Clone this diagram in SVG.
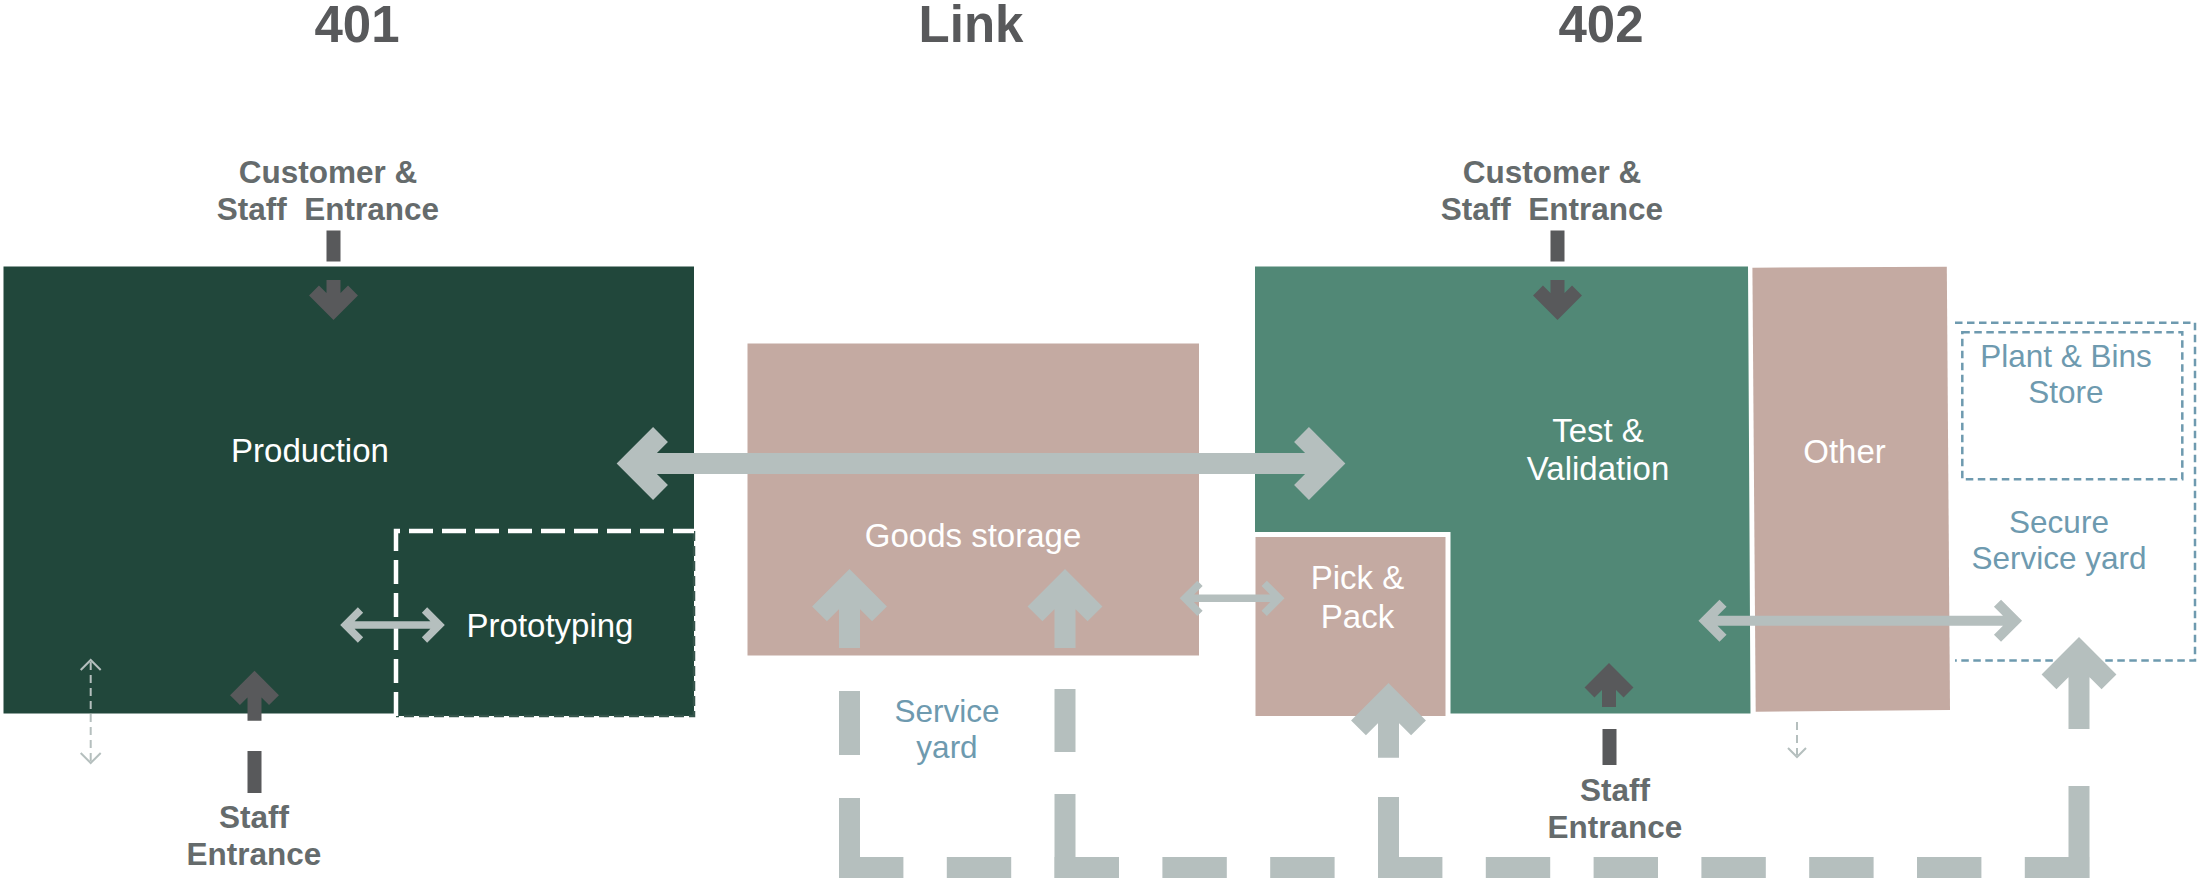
<svg xmlns="http://www.w3.org/2000/svg" width="2199" height="885" viewBox="0 0 2199 885">
<style>
.title{font-family:"Liberation Sans",Arial,sans-serif;font-weight:bold;font-size:51px;fill:#58595b;text-anchor:middle}
.ent{font-family:"Liberation Sans",Arial,sans-serif;font-weight:bold;font-size:31.5px;fill:#656b6c;text-anchor:middle}
.wl{font-family:"Liberation Sans",Arial,sans-serif;font-size:33px;fill:#ffffff;text-anchor:middle}
.bl{font-family:"Liberation Sans",Arial,sans-serif;font-size:31.5px;fill:#6e9aaf;text-anchor:middle}
.dg{fill:#21473b}
.mg{fill:#518876}
.pk{fill:#c4aaa2}
.la{fill:none;stroke:#b5bfbe;stroke-linejoin:miter;stroke-linecap:butt;stroke-miterlimit:10}
.da{fill:none;stroke:#58595b;stroke-width:14;stroke-linejoin:miter;stroke-linecap:butt;stroke-miterlimit:10}
.yard{fill:none;stroke:#b5bfbe;stroke-width:21;stroke-linecap:butt}
.thin{fill:none;stroke:#b5bfbe;stroke-width:2;stroke-dasharray:8 5}
.thinh{fill:none;stroke:#b5bfbe;stroke-width:2;stroke-linejoin:miter}
.bdash{fill:none;stroke:#6e9aaf;stroke-width:2.5;stroke-dasharray:7.5 4.5}
</style>

<g id="titles">
<text class="title" x="357" y="42">401</text>
<text class="title" x="971" y="42">Link</text>
<text class="title" x="1601" y="42">402</text>
</g>

<g id="production">
<rect class="dg" x="3.5" y="266.5" width="690.5" height="447"/>
<text class="wl" x="310" y="462">Production</text>
</g>

<g id="prototyping">
<rect class="dg" x="394" y="529" width="300" height="187"/>
<path d="M694,531 V716 H396" fill="none" stroke="#35554b" stroke-width="2.5" stroke-dasharray="10 5"/>
<path d="M396,716 V531 H694" fill="none" stroke="#ffffff" stroke-width="4.5" stroke-dasharray="24 9"/>
<text class="wl" x="550" y="637">Prototyping</text>
</g>

<g id="goods-storage">
<rect class="pk" x="747.5" y="343.5" width="451.5" height="312"/>
<text class="wl" x="973" y="547">Goods storage</text>
</g>

<g id="test-validation">
<polygon class="mg" points="1255,266.5 1748,266.5 1750.5,713.5 1450.5,713.5 1450.5,532 1255,532"/>
<text class="wl" x="1598" y="442">Test &amp;</text>
<text class="wl" x="1598" y="480">Validation</text>
</g>

<g id="pick-pack">
<rect class="pk" x="1255.5" y="537" width="190" height="179"/>
<text class="wl" x="1357.5" y="589">Pick &amp;</text>
<text class="wl" x="1357.5" y="628">Pack</text>
</g>

<g id="other">
<polygon class="pk" points="1752.4,267.7 1946.8,266.7 1950,710 1755.7,711.7"/>
<text class="wl" x="1844.5" y="463">Other</text>
</g>

<g id="secure-yard">
<path class="bdash" d="M1955,322.7 H2195 V660.5 H1955"/>
<text class="bl" x="2059" y="533">Secure</text>
<text class="bl" x="2059" y="569">Service yard</text>
</g>

<g id="plant-bins">
<rect class="bdash" x="1962.3" y="332.3" width="220" height="147"/>
<text class="bl" x="2066" y="366.5">Plant &amp; Bins</text>
<text class="bl" x="2066" y="403">Store</text>
</g>

<g id="service-yard">
<text class="bl" x="947" y="722">Service</text>
<text class="bl" x="947" y="758">yard</text>
</g>

<g id="entrances">
<text class="ent" x="328" y="183">Customer &amp;</text>
<text class="ent" x="328" y="220" xml:space="preserve">Staff  Entrance</text>
<text class="ent" x="1552" y="183">Customer &amp;</text>
<text class="ent" x="1552" y="220" xml:space="preserve">Staff  Entrance</text>
<text class="ent" x="254" y="828">Staff</text>
<text class="ent" x="254" y="865">Entrance</text>
<text class="ent" x="1615" y="801">Staff</text>
<text class="ent" x="1615" y="838">Entrance</text>
</g>

<g id="connectors">
<!-- service yard dashed route -->
<line class="yard" x1="839" y1="867.5" x2="2089.2" y2="867.5" stroke-dasharray="64.4 43.4"/>
<line class="yard" x1="849.5" y1="691" x2="849.5" y2="755"/>
<line class="yard" x1="849.5" y1="798" x2="849.5" y2="878"/>
<line class="yard" x1="1065" y1="689" x2="1065" y2="752"/>
<line class="yard" x1="1065" y1="794" x2="1065" y2="878"/>
<line class="yard" x1="1388.5" y1="797" x2="1388.5" y2="878"/>
<line class="yard" x1="2079" y1="786" x2="2079" y2="878"/>

<!-- big double arrow Production <-> Test -->
<path class="la" stroke-width="21" d="M631.5,463.5 H1330.5 M660.5,434.5 L631.5,463.5 L660.5,492.5 M1301.5,434.5 L1330.5,463.5 L1301.5,492.5"/>
<!-- prototyping double arrow -->
<path class="la" stroke-width="7.5" d="M345.5,625 H439.5 M360.5,610 L345.5,625 L360.5,640 M424.5,610 L439.5,625 L424.5,640"/>
<!-- goods <-> pick -->
<path class="la" stroke-width="7.5" d="M1185,598.3 H1279.2 M1200,583.3 L1185,598.3 L1200,613.3 M1264.2,583.3 L1279.2,598.3 L1264.2,613.3"/>
<!-- test <-> secure yard -->
<path class="la" stroke-width="10" d="M1705.5,620.7 H2015 M1723,603.2 L1705.5,620.7 L1723,638.2 M1997.5,603.2 L2015,620.7 L1997.5,638.2"/>
<!-- up arrows from service yard -->
<path class="la" stroke-width="21" d="M849.5,648 V583.8 M819.5,613.8 L849.5,583.8 L879.5,613.8"/>
<path class="la" stroke-width="21" d="M1065,648 V583.8 M1035,613.8 L1065,583.8 L1095,613.8"/>
<path class="la" stroke-width="21" d="M1388.5,757.7 V697.8 M1358.5,727.8 L1388.5,697.8 L1418.5,727.8"/>
<path class="la" stroke-width="21" d="M2079,729 V651.8 M2049,681.8 L2079,651.8 L2109,681.8"/>

<!-- dark entrance arrows -->
<path class="da" d="M333.5,230.5 V261.5 M333.5,280 V310 M314,290.5 L333.5,310 L353,290.5"/>
<path class="da" d="M1557.5,230.5 V261.5 M1557.5,280 V310 M1538,290.5 L1557.5,310 L1577,290.5"/>
<path class="da" d="M254.5,793 V751 M254.5,720.7 V680.6 M235,700.1 L254.5,680.6 L274,700.1"/>
<path class="da" d="M1609.5,765 V729 M1609,707 V673 M1589.5,692.5 L1609,673 L1628.5,692.5"/>

<!-- thin dashed arrows -->
<line class="thin" x1="90.7" y1="662" x2="90.7" y2="761"/>
<polyline class="thinh" points="80.7,670 90.7,660 100.7,670"/>
<polyline class="thinh" points="80.7,753 90.7,763 100.7,753"/>
<line class="thin" x1="1797" y1="722" x2="1797" y2="755"/>
<polyline class="thinh" points="1788,748 1797,757 1806,748"/>
</g>
</svg>
